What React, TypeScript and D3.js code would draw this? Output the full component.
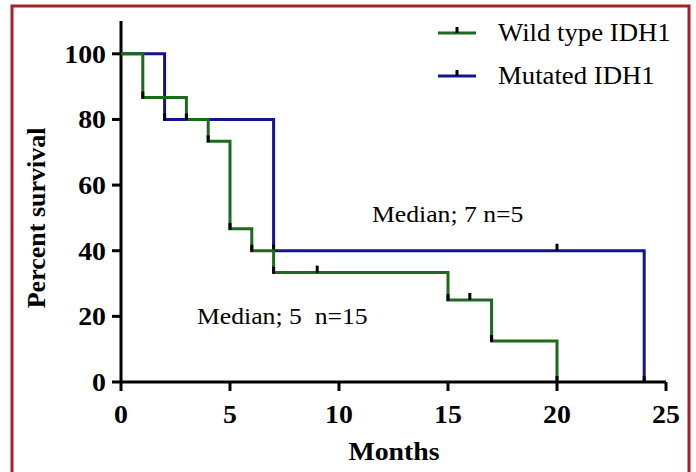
import React from 'react';
import * as d3 from 'd3';

// survival data
const wildTimes = [0, 1, 3, 4, 5, 6, 7, 15, 17, 20];
const wildSurvival = [100, 86.67, 80, 73.33, 46.67, 40, 33.33, 25, 12.5, 0];
const wildCensored = [9, 16];

const mutTimes = [0, 2, 7, 24];
const mutSurvival = [100, 80, 40, 0];
const mutCensored = [20];

const xTicks = [0, 5, 10, 15, 20, 25];
const yTicks = [0, 20, 40, 60, 80, 100];

const legendLabels = ['Wild type IDH1', 'Mutated IDH1'];
const notes = ['Median; 7 n=5', 'Median; 5\u00a0\u00a0n=15'];

const GREEN = '#1c6b1c';
const BLUE = '#14148c';
const BORDER = '#a3212a';
const SERIF = '"Liberation Serif", "Times New Roman", serif';
const SX = 1.07; // the original type is a little wide

const W = 696;
const H = 472;

const x = d3.scaleLinear().domain([0, 25]).range([121, 666]);
const y = d3.scaleLinear().domain([0, 110]).range([382, 21]);

type Pt = { t: number; s: number };

const toPoints = (times: number[], surv: number[]): Pt[] =>
  times.map((t, i) => ({ t, s: surv[i] }));

// level of a step curve at time t
const levelAt = (pts: Pt[], t: number) => {
  let s = pts[0].s;
  pts.forEach(p => { if (p.t <= t) s = p.s; });
  return s;
};

const Txt = ({ x: tx, y: ty, children, anchor = 'start', size = 26, bold = false }:
  { x: number; y: number; children: React.ReactNode; anchor?: string; size?: number; bold?: boolean }) => (
  <text transform={`translate(${tx},${ty}) scale(${SX},1)`} textAnchor={anchor}
    fontSize={size} fontWeight={bold ? 'bold' : 'normal'}>{children}</text>
);

const Curve = ({ times, surv, censored, color }:
  { times: number[]; surv: number[]; censored: number[]; color: string }) => {
  const pts = toPoints(times, surv);
  const line = d3.line<Pt>().x(d => x(d.t)).y(d => y(d.s)).curve(d3.curveStepAfter);
  return (
    <g>
      <path d={line(pts) || ''} fill="none" stroke={color} strokeWidth={3} />
      {pts.slice(1).map((p, i) => (
        <line key={'e' + i} x1={x(p.t)} x2={x(p.t)} y1={y(p.s) - 6} y2={y(p.s) + 1}
          stroke="#000" strokeWidth={3} />
      ))}
      {censored.map((t, i) => (
        <line key={'c' + i} x1={x(t)} x2={x(t)} y1={y(levelAt(pts, t)) - 7} y2={y(levelAt(pts, t))}
          stroke="#000" strokeWidth={3} />
      ))}
    </g>
  );
};

const App = () => {
  const legendColors = [GREEN, BLUE];
  const legendY = [33, 76];
  return (
    <svg width={W} height={H} style={{ position: 'absolute', left: 0, top: 0, background: '#fff' }}
      fontFamily={SERIF}>
      <rect x={12} y={6} width={677} height={490} fill="#fff" stroke={BORDER} strokeWidth={3} />

      {/* axes */}
      <line x1={x(0)} x2={x(25)} y1={y(0)} y2={y(0)} stroke="#000" strokeWidth={3} />
      <line x1={x(0)} x2={x(0)} y1={y(0)} y2={y(110)} stroke="#000" strokeWidth={3} />
      {xTicks.map(t => (
        <g key={'x' + t}>
          <line x1={x(t)} x2={x(t)} y1={y(0)} y2={y(0) + 9} stroke="#000" strokeWidth={3} />
          <Txt x={x(t)} y={423} anchor="middle" bold>{t}</Txt>
        </g>
      ))}
      {yTicks.map(t => (
        <g key={'y' + t}>
          <line x1={x(0) - 9} x2={x(0)} y1={y(t)} y2={y(t)} stroke="#000" strokeWidth={3} />
          <Txt x={106} y={y(t) + 9} anchor="end" bold>{t}</Txt>
        </g>
      ))}
      <Txt x={394} y={460} anchor="middle" bold>Months</Txt>
      <text transform={`translate(45,${y(50)}) rotate(-90)`} textAnchor="middle"
        fontWeight="bold" fontSize={26}>Percent survival</text>

      <Curve times={mutTimes} surv={mutSurvival} censored={mutCensored} color={BLUE} />
      <Curve times={wildTimes} surv={wildSurvival} censored={wildCensored} color={GREEN} />

      {/* legend */}
      {legendLabels.map((lab, i) => (
        <g key={lab}>
          <line x1={438} x2={476} y1={legendY[i]} y2={legendY[i]} stroke={legendColors[i]} strokeWidth={3} />
          <line x1={457} x2={457} y1={legendY[i] - 6} y2={legendY[i]} stroke="#000" strokeWidth={3} />
          <Txt x={498} y={legendY[i] + 8} size={25}>{lab}</Txt>
        </g>
      ))}

      <Txt x={372} y={222} size={24}>{notes[0]}</Txt>
      <Txt x={197} y={324} size={24}>{notes[1]}</Txt>
    </svg>
  );
};

export default App;
